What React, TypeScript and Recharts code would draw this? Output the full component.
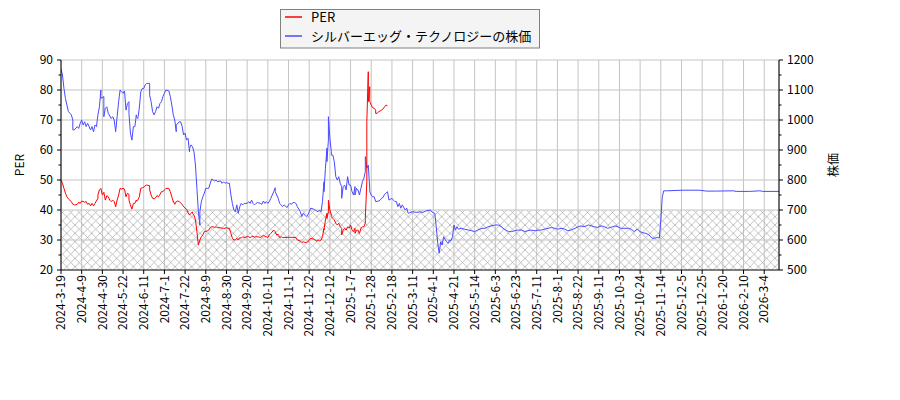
import React from 'react';
import { ComposedChart, Line, XAxis, YAxis, ReferenceArea, ReferenceLine, CartesianGrid } from 'recharts';

const FONT = '"Noto Sans CJK JP", "DejaVu Sans", sans-serif';

// Trading-day index ticks (every 14 trading days)
const TICK_STEP = 14;
const tickLabels = [
  '2024-3-19', '2024-4-9', '2024-4-30', '2024-5-22', '2024-6-11', '2024-7-1', '2024-7-22',
  '2024-8-9', '2024-8-30', '2024-9-20', '2024-10-11', '2024-11-1', '2024-11-22', '2024-12-12',
  '2025-1-7', '2025-1-28', '2025-2-18', '2025-3-11', '2025-4-1', '2025-4-21', '2025-5-14',
  '2025-6-3', '2025-6-23', '2025-7-11', '2025-8-1', '2025-8-22', '2025-9-11', '2025-10-3',
  '2025-10-24', '2025-11-14', '2025-12-5', '2025-12-25', '2026-1-20', '2026-2-10', '2026-3-4',
];
const xTicks = tickLabels.map((_, i) => i * TICK_STEP);
const X_MAX = 486;

const perTicks = [20, 25, 30, 35, 40, 45, 50, 55, 60, 65, 70, 75, 80, 85, 90];
const perGrid = [30, 40, 50, 60, 70, 80, 90];
const priceTicks = [500, 550, 600, 650, 700, 750, 800, 850, 900, 950, 1000, 1050, 1100, 1150, 1200];

// PER series (trading-day index, value)
const perDays = [
  0, 1, 2, 3, 4, 5, 7, 8, 9, 10, 11, 12, 13, 14, 16, 17, 18, 19, 20, 21, 22, 23, 25, 25, 26, 27, 28, 29, 30,
  31, 32, 33, 34, 35, 36, 37, 38, 39, 40, 41, 42, 43, 44, 45, 46, 46, 47, 48, 49, 50, 51, 51, 52, 53, 54, 55,
  56, 57, 58, 60, 60, 61, 62, 63, 64, 65, 66, 67, 68, 69, 70, 71, 73, 74, 75, 76, 76, 77, 78, 79, 80, 82, 83,
  84, 85, 86, 87, 88, 89, 89, 90, 91, 92, 93, 94, 95, 96, 97, 99, 100, 101, 102, 103, 104, 105, 106, 108, 109,
  110, 111, 112, 113, 114, 115, 116, 117, 118,
  119, 120, 121, 122, 123, 124, 126, 127, 128, 129, 130, 131, 132, 133, 135, 136, 137, 138, 139, 140, 141, 142,
  144, 145, 146, 147, 148, 149, 150, 153, 155, 157, 159, 160, 162, 163, 164, 165, 166, 167, 168, 169, 171, 172,
  173, 174, 175, 176, 177, 178, 178, 179, 180, 180, 181, 181, 182, 183, 183, 184, 185, 186, 187, 188, 189, 190,
  190, 191, 192, 193, 194, 195, 196, 197, 198, 199, 199, 200, 201, 202, 203, 204, 205, 206, 206, 207, 207, 208,
  208, 209, 209, 210, 211, 212, 213, 213, 214, 215, 216, 217, 218, 219, 220, 221,
];
const perValues = [
  50, 48.9, 47.2, 45.6, 44.4, 43.7, 42.8, 41.9, 41.7, 41.7, 41.9, 42.6, 42.2, 43, 42.6, 42.8, 41.9, 42.2, 41.4,
  42.2, 41.4, 42.2, 43.9, 45, 46.7, 47.2, 45, 45.9, 43.3,
  44.8, 44.4, 43.3, 42.8, 43.3, 42.8, 41.1, 43.3, 45, 47.2, 47, 47.2, 47, 44.4, 45.6, 45.2, 43.3, 41.7, 40.3,
  42.2, 42.2, 43.3, 43, 43.3, 44.4, 47.2, 47.4,
  47.6, 48.1, 48.3, 48.1, 46.7, 45, 43.9, 43.7, 44.1, 44.8, 44.4, 45.2, 46.1, 46.1, 46.7, 47.2, 47.2, 46.1, 44.4,
  42.8, 43, 41.9, 42.8, 43, 42.8, 41.9, 41.1,
  40.6, 40.3, 39.2, 38.3, 38.9, 39.4, 38.9, 38.3, 36.7, 32.8, 28.3, 30, 31.1, 31.7, 32.8, 33, 33.3, 34.1, 34.4,
  34.4, 34.2, 34.4, 34.1, 34.1, 33.9,
  33.9, 33.9, 34.1, 33.9, 33.9, 32.2, 30.6, 30, 30,
  30.6, 30, 30.8, 30.6, 31.1, 30.8, 31.1, 31.1, 30.8, 31.1, 31.3, 30.9, 31.1, 31.1, 30.9, 31.1, 31.7, 31.1, 31.1,
  30.8, 31.7, 32.2,
  33.3, 32.8, 31.7, 31.9, 30.8, 31.1, 30.8, 30.9, 30.9, 30.9, 30.8, 30, 29.7, 29.2, 29.4, 29.2, 29.2, 29.4, 30,
  30.6, 30.3, 30,
  29.7, 30, 29.7, 30, 31.1, 33.9, 33.3, 36.7, 38.9, 37.2, 39.4, 43.3, 40, 38.3, 37.8, 37.2, 36.7, 35.6, 35, 35.6,
  34.4, 33.9,
  31.7, 33.3, 33.9, 33.3, 34.4, 33.9, 35, 33.3, 32.8, 33.9, 32.2, 33.3, 33.3, 32.2, 33.9, 34.4, 34.4, 35.6, 37.2,
  49.4, 69.4, 86.1,
  76.1, 81.1, 76.1, 75, 74.1, 73.9, 73.3, 72.2, 72.2, 72.8, 73, 73.3, 73.7, 74.4, 75, 74.7,
];

// Share price series (trading-day index, value)
const priceDays = [
  0, 1, 2, 3, 4, 5, 7, 8, 8, 9, 11, 12, 13, 14, 15, 16, 17, 18, 20, 21, 22, 23, 24, 25, 26, 27, 27, 29, 29, 30,
  31, 32, 34, 35, 36, 37, 38, 39, 40, 41, 42, 43, 44, 45, 46, 46, 47, 48, 49, 50, 51, 51, 52, 53, 54, 55, 56, 57,
  58, 60, 60, 61, 62, 63, 64, 65, 66, 67, 68, 69, 70, 71, 73, 74, 75, 76, 77, 78, 78, 80, 81, 82, 83, 84, 85, 86,
  87, 87, 88, 89, 90, 91, 92, 93, 94, 94, 95, 96, 97, 98, 99, 100, 101, 102, 103, 104, 105, 106, 108, 109, 110,
  111, 112, 113, 114, 115, 116, 117, 118,
  119, 120, 121, 122, 123, 124, 126, 127, 128, 129, 130, 131, 132, 133, 135, 136, 137, 138, 139, 140, 141, 142,
  144, 145, 145, 146, 147, 148, 149, 150, 151, 153, 154, 155, 156, 157, 158, 159, 160, 162, 163, 164, 165, 166,
  167, 168, 169, 171, 172, 173, 174, 175, 176, 177, 178, 178, 179, 180, 180, 181, 181, 182, 183, 183, 184, 185,
  186, 187, 188, 189, 190, 190, 191, 192, 193, 194, 195, 196, 197, 198, 199, 199, 200, 201, 202, 203, 204, 205,
  206, 206, 207, 208, 209, 209, 210, 211, 212, 213, 215, 216, 217, 218, 219, 220, 221, 222, 224, 225, 226, 227,
  228, 229, 230, 231, 233,
  234, 235, 236, 238, 241, 243, 245, 247, 250, 251, 252, 253, 254, 255, 256, 257, 258, 259, 260, 261, 262, 263,
  264, 265, 266, 267, 268, 269, 271, 273, 276, 278, 280, 282, 285, 287, 289, 291, 294, 296, 298, 300, 303, 305,
  307, 309, 312, 314, 316, 318, 321, 323, 325, 327, 330, 332, 334, 336, 339, 341, 343, 345, 348, 350, 352, 354,
  357, 359, 361, 363, 366, 368, 370, 372, 375, 377, 379, 381, 384, 386, 388, 390, 392, 394, 396, 398, 400, 402,
  404, 405, 406, 407, 408, 410, 421, 432, 437, 443, 455, 457, 466, 473, 475, 486,
];
const priceValues = [
  1170, 1150, 1105, 1072, 1050, 1028, 1017, 1000, 967, 967, 978, 972, 989, 1000, 983, 994, 978, 989, 967, 978,
  961, 983, 978, 1017, 1044, 1100, 1072, 1078, 1011, 1039,
  1044, 1022, 1005, 1011, 1000, 961, 1011, 1061, 1100, 1094, 1089, 1097, 1033, 1055, 1061, 1022, 956, 933, 978,
  978, 1017, 1011, 1005, 1039, 1094, 1105, 1105, 1117,
  1122, 1122, 1083, 1061, 1028, 1017, 1028, 1044, 1039, 1055, 1061, 1078, 1089, 1100, 1097, 1078, 1050, 1017,
  1000, 961, 983, 994, 994, 978, 950, 956, 933, 939,
  894, 905, 917, 911, 894, 850, 772, 694, 650, 694, 728, 744, 756, 772, 772, 772, 789, 803, 800, 797, 800, 794,
  797, 789, 794,
  789, 792, 789, 789, 750, 722, 700, 694,
  717, 689, 711, 722, 717, 722, 722, 728, 722, 733, 722, 717, 722, 725, 722, 719, 730, 722, 728, 722, 728, 739,
  761, 774, 761, 750, 739, 722, 717, 711, 717, 708, 717, 722, 719, 725, 725, 722, 711, 694, 678, 689, 683, 678,
  683, 694, 706, 703, 700, 697, 694, 700, 694, 728, 794, 761, 839, 906, 861, 933, 1011, 939, 894, 883, 883, 861,
  811, 800, 811, 789, 778, 739, 778, 783, 767, 811, 783, 783, 761, 750, 778, 750, 772, 767, 750, 772, 794, 806,
  828, 878, 839, 850, 767, 761, 750, 744, 744, 728, 730, 733, 739, 742, 752, 756, 761, 733, 739, 733, 728, 728,
  711, 722, 706, 717, 700,
  706, 689, 691, 694, 692, 694, 692, 697, 700, 694, 691, 689, 644, 589, 556, 594, 583, 611, 602, 594, 589, 600,
  598, 611, 650, 633, 644, 636, 639, 636, 633, 631, 628, 633, 639, 639, 644, 647, 650, 650, 644, 636, 628, 628,
  631, 633, 633, 628, 631, 633, 631, 633, 633, 636, 639, 642, 639, 636, 639, 636, 631, 633, 639, 644, 647, 644,
  650, 647, 644, 642, 647, 644, 639, 642, 647, 644, 639, 639, 639, 636, 628, 636, 628, 624, 622, 617, 606, 606,
  609, 606, 667, 744, 764, 764, 766, 766, 763, 763, 764, 762, 762, 764, 762, 762,
];

const perData = perDays.map((d, i) => ({ d, v: perValues[i] }));
const priceData = priceDays.map((d, i) => ({ d, v: priceValues[i] }));

const XTick = (props: any) => {
  const { x, y, payload } = props;
  const label = tickLabels[Math.round(payload.value / TICK_STEP)];
  const ty = y + 5;
  return (
    <g>
      <line x1={x} y1={y} x2={x} y2={y + 4} stroke="#000" strokeWidth={1} />
      <text
        x={x}
        y={ty}
        transform={`rotate(-90, ${x}, ${ty})`}
        textAnchor="end"
        dy="0.35em"
        fontSize={12}
        fontFamily={FONT}
        fill="#000"
      >
        {label}
      </text>
    </g>
  );
};

const LeftTick = (props: any) => {
  const { x, y, payload } = props;
  const v = payload.value;
  const major = v % 10 === 0;
  return (
    <g>
      <line x1={x} y1={y} x2={x - (major ? 4 : 2.5)} y2={y} stroke="#000" strokeWidth={1} />
      {major && (
        <text x={x - 8} y={y} dy="0.35em" textAnchor="end" fontSize={12} fontFamily={FONT} fill="#000">
          {v}
        </text>
      )}
    </g>
  );
};

const RightTick = (props: any) => {
  const { x, y, payload } = props;
  const v = payload.value;
  const major = v % 100 === 0;
  return (
    <g>
      <line x1={x} y1={y} x2={x + (major ? 4 : 2.5)} y2={y} stroke="#000" strokeWidth={1} />
      {major && (
        <text x={x + 8} y={y} dy="0.35em" textAnchor="start" fontSize={12} fontFamily={FONT} fill="#000">
          {v}
        </text>
      )}
    </g>
  );
};

const RED = '#ff0000';
const BLUE = '#4a4aff';
const GRID = '#c4c4c4';

export default function App() {
  return (
    <div style={{ position: 'absolute', left: 0, top: 0, width: 900, height: 400, background: '#fff' }}>
      <ComposedChart
        width={900}
        height={400}
        margin={{ top: 60, right: 0, bottom: 0, left: 0 }}
      >
        <defs>
          <pattern id="hatchX" patternUnits="userSpaceOnUse" width={8.333} height={8.333}>
            <path d="M0,0 L8.333,8.333 M8.333,0 L0,8.333" stroke="#a6a6a6" strokeWidth={0.7} fill="none" />
          </pattern>
        </defs>
        <XAxis
          xAxisId="x"
          type="number"
          dataKey="d"
          domain={[0, X_MAX]}
          allowDataOverflow
          ticks={xTicks}
          interval={0}
          height={130}
          tickSize={0}
          tickMargin={0}
          tickLine={false}
          axisLine={{ stroke: '#000', strokeWidth: 1 }}
          tick={<XTick />}
        />
        <YAxis
          yAxisId="left"
          type="number"
          domain={[20, 90]}
          allowDataOverflow
          ticks={perTicks}
          interval={0}
          width={61}
          tickSize={0}
          tickMargin={0}
          tickLine={false}
          axisLine={{ stroke: '#000', strokeWidth: 1 }}
          tick={<LeftTick />}
        />
        <YAxis
          yAxisId="right"
          orientation="right"
          type="number"
          domain={[500, 1200]}
          allowDataOverflow
          ticks={priceTicks}
          interval={0}
          width={121}
          tickSize={0}
          tickMargin={0}
          tickLine={false}
          axisLine={{ stroke: '#000', strokeWidth: 1 }}
          tick={<RightTick />}
        />
        <CartesianGrid
          xAxisId="x"
          yAxisId="left"
          horizontal={false}
          vertical={true}
          stroke={GRID}
          strokeWidth={1}
        />
        {perGrid.map((v) => (
          <ReferenceLine key={v} xAxisId="x" yAxisId="left" y={v} stroke={GRID} strokeWidth={1} />
        ))}
        <ReferenceArea
          xAxisId="x"
          yAxisId="left"
          x1={0}
          x2={X_MAX}
          y1={20}
          y2={40}
          fill="url(#hatchX)"
          fillOpacity={1}
          stroke="none"
        />
        <Line
          xAxisId="x"
          yAxisId="right"
          data={priceData}
          dataKey="v"
          type="linear"
          stroke={BLUE}
          strokeWidth={1}
          dot={false}
          activeDot={false}
          isAnimationActive={false}
        />
        <Line
          xAxisId="x"
          yAxisId="left"
          data={perData}
          dataKey="v"
          type="linear"
          stroke={RED}
          strokeWidth={1}
          dot={false}
          activeDot={false}
          isAnimationActive={false}
        />
      </ComposedChart>
      <svg
        width={900}
        height={400}
        style={{ position: 'absolute', left: 0, top: 0, pointerEvents: 'none' }}
      >
        <text
          x={20}
          y={165}
          transform="rotate(-90, 20, 165)"
          textAnchor="middle"
          dy="0.35em"
          fontSize={12}
          fontFamily={FONT}
          fill="#000"
        >
          PER
        </text>
        <text
          x={834}
          y={165}
          transform="rotate(-90, 834, 165)"
          textAnchor="middle"
          dy="0.35em"
          fontSize={12}
          fontFamily={FONT}
          fill="#000"
        >
          株価
        </text>
        <rect x={280.5} y={9.5} width={259} height={38.5} fill="#f4f4f4" stroke="#808080" strokeWidth={1} />
        <line x1={285} y1={17} x2={302} y2={17} stroke={RED} strokeWidth={1.5} />
        <text x={311} y={17} dy="0.35em" fontSize={13} fontFamily={FONT} fill="#000">
          PER
        </text>
        <line x1={285} y1={36} x2={302} y2={36} stroke={BLUE} strokeWidth={1.5} />
        <text x={311} y={36} dy="0.35em" fontSize={13} fontFamily={FONT} fill="#000">
          シルバーエッグ・テクノロジーの株価
        </text>
      </svg>
    </div>
  );
}
